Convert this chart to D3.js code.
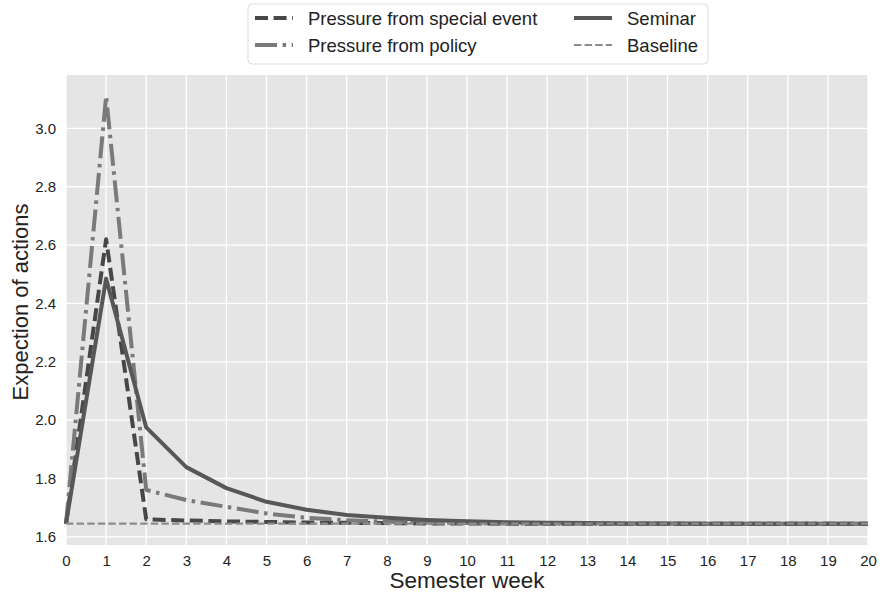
<!DOCTYPE html>
<html lang="en">
<head>
<meta charset="UTF-8">
<script src="https://d3js.org/d3.v7.min.js"></script>
<style>
  body { margin: 0; background: #fff; font-family: "Liberation Sans", Arial, sans-serif; }
  .tick text { fill: #222; font-size: 15px; }
</style>
</head>
<body>
<div id="chart"></div>
<script>
  // weeks 0..20
  const weeks = d3.range(0, 21);
  const specialEvent = [1.645, 2.62, 1.66, 1.656, 1.653, 1.651, 1.649, 1.648, 1.647, 1.646, 1.646, 1.645, 1.645, 1.645, 1.645, 1.645, 1.645, 1.645, 1.645, 1.645, 1.645];
  const policy = [1.645, 3.11, 1.761, 1.726, 1.703, 1.68, 1.665, 1.657, 1.652, 1.649, 1.647, 1.646, 1.645, 1.645, 1.645, 1.645, 1.645, 1.645, 1.645, 1.645, 1.645];
  const seminar = [1.645, 2.485, 1.975, 1.839, 1.767, 1.72, 1.693, 1.675, 1.665, 1.658, 1.653, 1.65, 1.648, 1.647, 1.646, 1.646, 1.645, 1.645, 1.645, 1.645, 1.645];
  const baseline = [1.645, 1.645, 1.645, 1.645, 1.645, 1.645, 1.645, 1.645, 1.645, 1.645, 1.645, 1.645, 1.645, 1.645, 1.645, 1.645, 1.645, 1.645, 1.645, 1.645, 1.645];
  const yTicks = [1.6, 1.8, 2.0, 2.2, 2.4, 2.6, 2.8, 3.0];

  const W = 880, H = 595;
  const m = { left: 66, right: 12, top: 75, bottom: 50 };
  const iw = W - m.left - m.right, ih = H - m.top - m.bottom;

  const series = [
    { name: "Pressure from special event", values: specialEvent, color: "#474747", width: 4, dash: "13,5.6" },
    { name: "Pressure from policy", values: policy, color: "#7a7a7a", width: 4, dash: "22,5.6,3.5,5.6" },
    { name: "Seminar", values: seminar, color: "#575757", width: 4, dash: null },
    { name: "Baseline", values: baseline, color: "#8c8c8c", width: 2.2, dash: "7.4,3.2" }
  ];

  const svg = d3.select("#chart").append("svg")
    .attr("width", W).attr("height", H);

  const x = d3.scaleLinear().domain([0, 20]).range([0, iw]);
  const y = d3.scaleLinear().domain([1.572, 3.183]).range([ih, 0]);

  const g = svg.append("g").attr("transform", "translate(" + m.left + "," + m.top + ")");

  g.append("rect").attr("width", iw).attr("height", ih).attr("fill", "#e5e5e5");

  // grid
  g.selectAll("line.vg").data(weeks).enter().append("line")
    .attr("x1", d => x(d)).attr("x2", d => x(d))
    .attr("y1", 0).attr("y2", ih)
    .attr("stroke", "#fff").attr("stroke-width", 1.3);
  g.selectAll("line.hg").data(yTicks).enter().append("line")
    .attr("x1", 0).attr("x2", iw)
    .attr("y1", d => y(d)).attr("y2", d => y(d))
    .attr("stroke", "#fff").attr("stroke-width", 1.3);

  // axes
  const xAxis = g.append("g").attr("transform", "translate(0," + ih + ")")
    .call(d3.axisBottom(x).tickValues(weeks).tickFormat(d3.format("d")).tickSize(0).tickPadding(10));
  xAxis.select(".domain").remove();

  const yAxis = g.append("g")
    .call(d3.axisLeft(y).tickValues(yTicks).tickFormat(d3.format(".1f")).tickSize(0).tickPadding(10));
  yAxis.select(".domain").remove();

  svg.append("text")
    .attr("x", m.left + iw / 2).attr("y", 588)
    .attr("text-anchor", "middle")
    .attr("font-size", 22.5).attr("fill", "#222")
    .text("Semester week");

  svg.append("text")
    .attr("transform", "translate(28,302) rotate(-90)")
    .attr("text-anchor", "middle")
    .attr("font-size", 22).attr("fill", "#222")
    .text("Expection of actions");

  // lines
  const line = d3.line().x((d, i) => x(weeks[i])).y(d => y(d));
  g.selectAll("path.series").data(series).enter().append("path")
    .attr("d", d => line(d.values))
    .attr("fill", "none")
    .attr("stroke", d => d.color)
    .attr("stroke-width", d => d.width)
    .attr("stroke-dasharray", d => d.dash)
    .attr("stroke-linejoin", "round");

  // legend
  const lg = svg.append("g");
  lg.append("rect")
    .attr("x", 248).attr("y", 4).attr("width", 460).attr("height", 60)
    .attr("rx", 4).attr("fill", "#fff").attr("stroke", "#ddd");
  const legPos = [[255, 18], [255, 45], [574, 18], [574, 45]];
  series.forEach((s, i) => {
    const p = legPos[i];
    lg.append("line")
      .attr("x1", p[0]).attr("x2", p[0] + 38)
      .attr("y1", p[1]).attr("y2", p[1])
      .attr("stroke", s.color).attr("stroke-width", s.width)
      .attr("stroke-dasharray", s.dash);
    lg.append("text")
      .attr("x", p[0] + 53).attr("y", p[1] + 6.5)
      .attr("font-size", 18.5).attr("fill", "#222")
      .text(s.name);
  });
</script>
</body>
</html>
